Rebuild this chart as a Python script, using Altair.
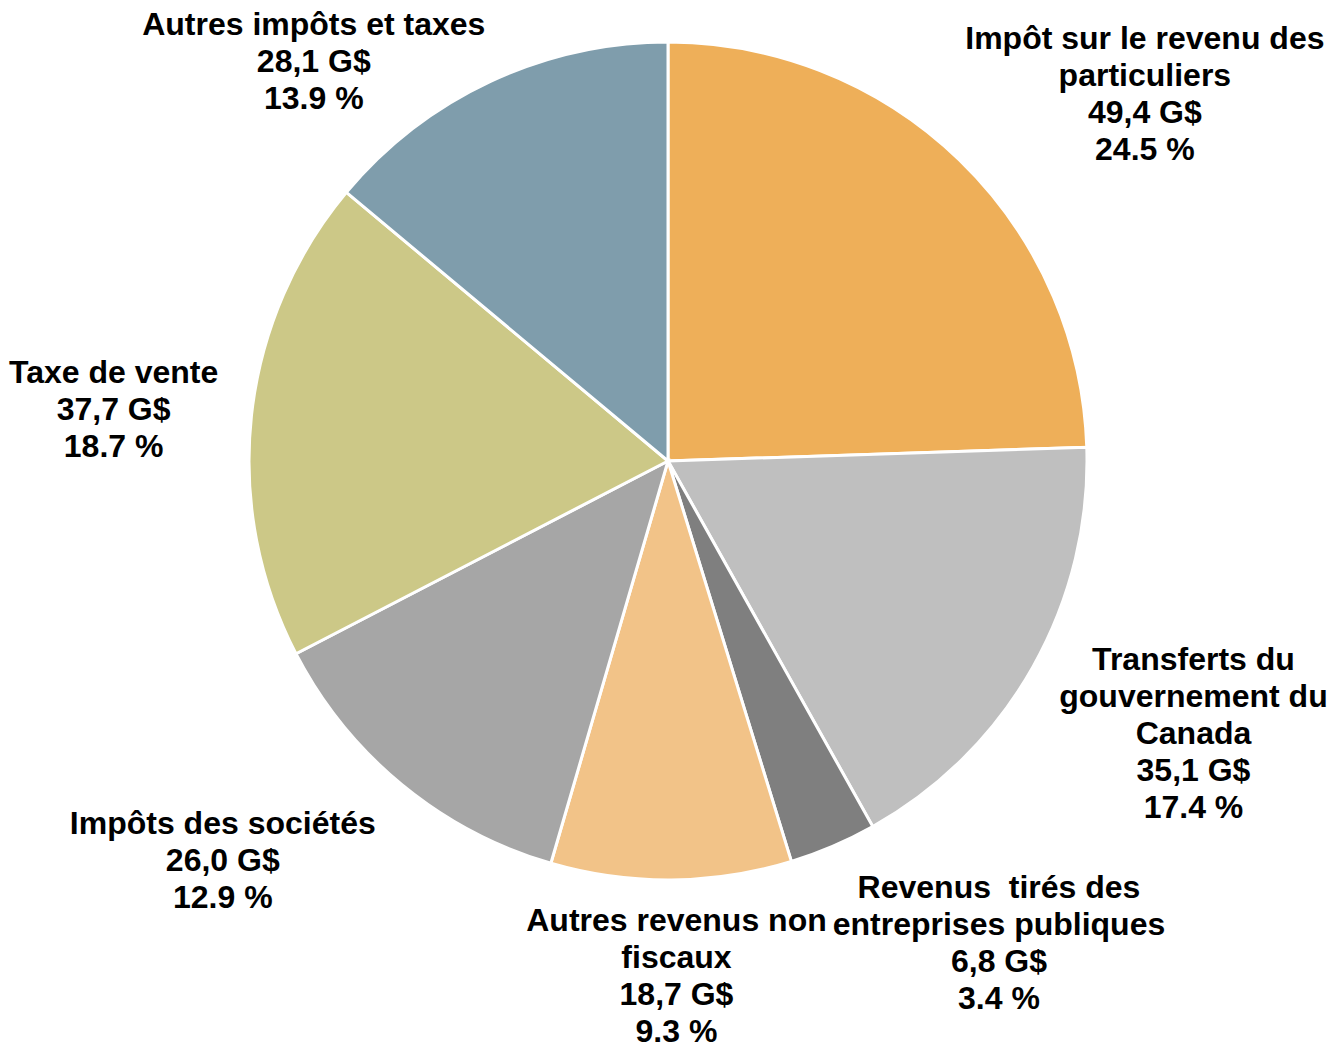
import altair as alt
import pandas as pd

# ---- data ----
names = [
    "Impôt sur le revenu des\nparticuliers",
    "Transferts du\ngouvernement du\nCanada",
    "Revenus\u00a0 tirés des\nentreprises publiques",
    "Autres revenus non\nfiscaux",
    "Impôts des sociétés",
    "Taxe de vente",
    "Autres impôts et taxes",
]
values = [49.4, 35.1, 6.8, 18.7, 26.0, 37.7, 28.1]
percents = [24.5, 17.4, 3.4, 9.3, 12.9, 18.7, 13.9]
colors = ["#EEAF59", "#BFBFBF", "#7F7F7F", "#F2C388", "#A6A6A6", "#CCC887", "#7F9DAC"]

# ---- layout (label placement relative to slice middle) ----
label_radius = [603, 591, 583, 513, 597, 557, 535.5]
label_nudge_deg = [8.2, -2.2, -11.4, -0.5, 8.8, -0.7, -16.35]

W, H = 1320, 1036
CX, CY = 660, 453
R = 419
LH = 37
TEXT_SHIFT = 2.5

labels = [
    f"{n}\n{v.replace('.', ',')} G$\n{p} %"
    for n, v, p in zip(names, [f"{x:.1f}" for x in values], percents)
]

df = pd.DataFrame({
    "cat": [n.replace("\n", " ") for n in names],
    "value": values,
    "order": list(range(len(values))),
    "label": labels,
    "lr": label_radius,
    "nudge": label_nudge_deg,
})

cats = list(df["cat"])

base = alt.Chart(df)

arcs = base.mark_arc(radius=R, stroke="white", strokeWidth=3).encode(
    theta=alt.Theta("value:Q", stack=True),
    color=alt.Color("cat:N", scale=alt.Scale(domain=cats, range=colors), legend=None),
    order=alt.Order("order:Q", sort="ascending"),
    x=alt.value(CX),
    y=alt.value(CY),
)

text = (
    base.transform_joinaggregate(total="sum(value)")
    .transform_window(cum="sum(value)", sort=[alt.SortField("order")], frame=[None, 0])
    .transform_calculate(
        ang="((datum.cum - datum.value/2)/datum.total)*2*PI + datum.nudge*PI/180",
        nl="length(split(datum.label, '\\n'))",
    )
    .transform_calculate(
        lx=f"{CX} + datum.lr*sin(datum.ang)",
        ly=f"{CY} - datum.lr*cos(datum.ang) - (datum.nl - 1)/2*{LH} + {TEXT_SHIFT}",
    )
    .mark_text(
        font="Liberation Sans",
        fontWeight="bold",
        fontSize=32,
        lineHeight=LH,
        lineBreak="\n",
        align="center",
        baseline="middle",
        color="black",
    )
    .encode(
        x=alt.X("lx:Q", scale=None, axis=None),
        y=alt.Y("ly:Q", scale=None, axis=None),
        text="label:N",
    )
)

chart = (
    alt.layer(arcs, text)
    .properties(width=W, height=H, autosize=alt.AutoSizeParams(type="none"), padding=0, background="white")
    .configure_view(stroke=None)
)

chart.save("out.html", embed_options={"renderer": "svg", "actions": False})
